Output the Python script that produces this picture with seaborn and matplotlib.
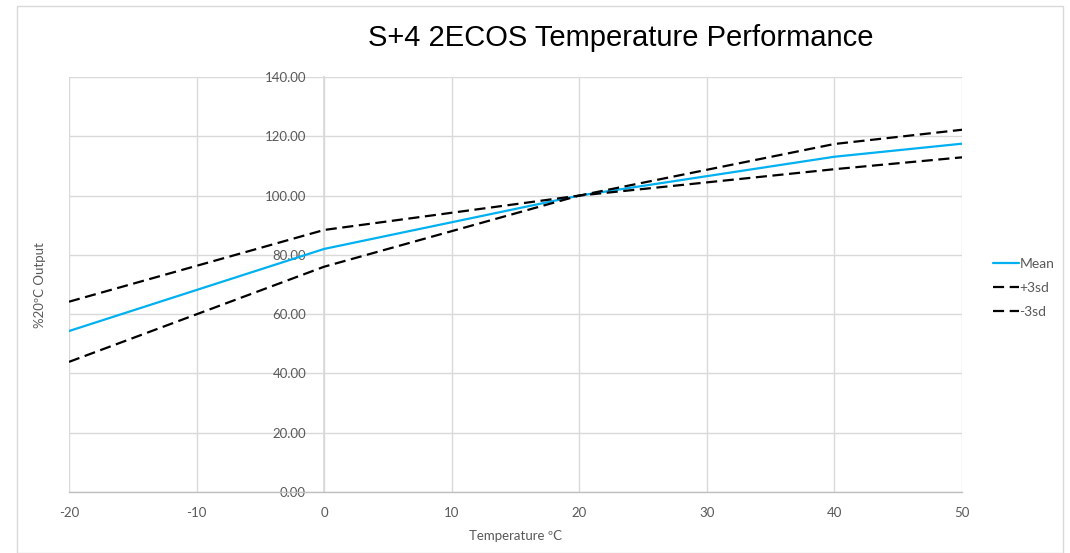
import matplotlib
matplotlib.use("Agg")
import matplotlib.pyplot as plt
import seaborn as sns
import pandas as pd
from matplotlib.patches import Rectangle
from matplotlib.lines import Line2D

temps = [-20, 0, 20, 40, 50]
mean_vals = [54.3, 82.0, 100.0, 113.1, 117.5]
plus3sd = [64.2, 88.4, 100.0, 108.9, 112.9]
minus3sd = [43.9, 76.0, 100.0, 117.4, 122.2]
series_names = ["Mean", "+3sd", "-3sd"]
y_ticks = [0, 20, 40, 60, 80, 100, 120, 140]
x_ticks = [-20, -10, 0, 10, 20, 30, 40, 50]

df = pd.DataFrame({
    "Temperature": temps * 3,
    "Value": mean_vals + plus3sd + minus3sd,
    "Series": [series_names[0]] * len(temps) + [series_names[1]] * len(temps) + [series_names[2]] * len(temps),
})

sns.set_theme(style="white")
plt.rcParams['font.family'] = ['Lato', 'DejaVu Sans']

GREY = "#595959"
fig = plt.figure(figsize=(10.70, 5.53), dpi=100)
ax = fig.add_axes([69/1070, 1-492/553, (962-69)/1070, (492-77)/553])

palette = {"Mean": "#00B0F0", "+3sd": "black", "-3sd": "black"}
dashes = {"Mean": "", "+3sd": (5, 2.5), "-3sd": (5, 2.5)}
sns.lineplot(data=df, x="Temperature", y="Value", hue="Series", style="Series",
             palette=palette, dashes=dashes, linewidth=1.6, ax=ax, legend=False,
             hue_order=series_names, style_order=series_names)

ax.set_xlim(-20, 50)
ax.set_ylim(0, 140)
ax.set_xticks(x_ticks)
ax.set_yticks(y_ticks)
ax.set_xticklabels([str(v) for v in x_ticks])
ax.set_yticklabels([f"{v:.2f}" for v in y_ticks])
ax.tick_params(axis="x", length=0, pad=11, labelcolor=GREY, labelsize=9.5)
ax.tick_params(axis="y", length=0, pad=13, labelcolor=GREY, labelsize=9.5)
for lbl in ax.get_yticklabels():
    lbl.set_bbox(dict(facecolor="white", edgecolor="none", pad=0.3))

ax.grid(True, color="#d9d9d9", linewidth=1)
ax.set_axisbelow(True)
for s in ["top", "right"]:
    ax.spines[s].set_visible(False)
ax.spines["left"].set_position(("data", 0))
ax.spines["left"].set_color("#d9d9d9")
ax.spines["left"].set_zorder(0.5)
ax.spines["bottom"].set_color("#bfbfbf")
ax.spines["bottom"].set_linewidth(1)

ax.set_xlabel("Temperature ºC", color=GREY, fontsize=9.5, labelpad=8)
ax.set_ylabel("")
fig.text(40/1070, 1-285/553, "%20ºC Output", rotation=90, color=GREY,
         fontsize=9.5, ha="center", va="center")

fig.text(621/1070, 1-38/553, "S+4 2ECOS Temperature Performance", fontsize=21,
         ha="center", va="center", color="black", family=["Liberation Sans", "DejaVu Sans"])

handles = [Line2D([], [], color="#00B0F0", linewidth=1.6),
           Line2D([], [], color="black", linewidth=1.6, dashes=(5, 2.5)),
           Line2D([], [], color="black", linewidth=1.6, dashes=(5, 2.5))]
leg = fig.legend(handles, series_names, loc="center left",
                 bbox_to_anchor=(980/1070, 1-288/553), frameon=False,
                 fontsize=10, handlelength=1.9, handletextpad=0.05, labelspacing=0.85)
for t in leg.get_texts():
    t.set_color(GREY)

fig.patches.append(Rectangle((17/1070, 0), (1063-17)/1070, 1-6/553,
                             transform=fig.transFigure, fill=False,
                             edgecolor="#d9d9d9", linewidth=1))

fig.savefig("out.png", dpi=100, facecolor="white")
